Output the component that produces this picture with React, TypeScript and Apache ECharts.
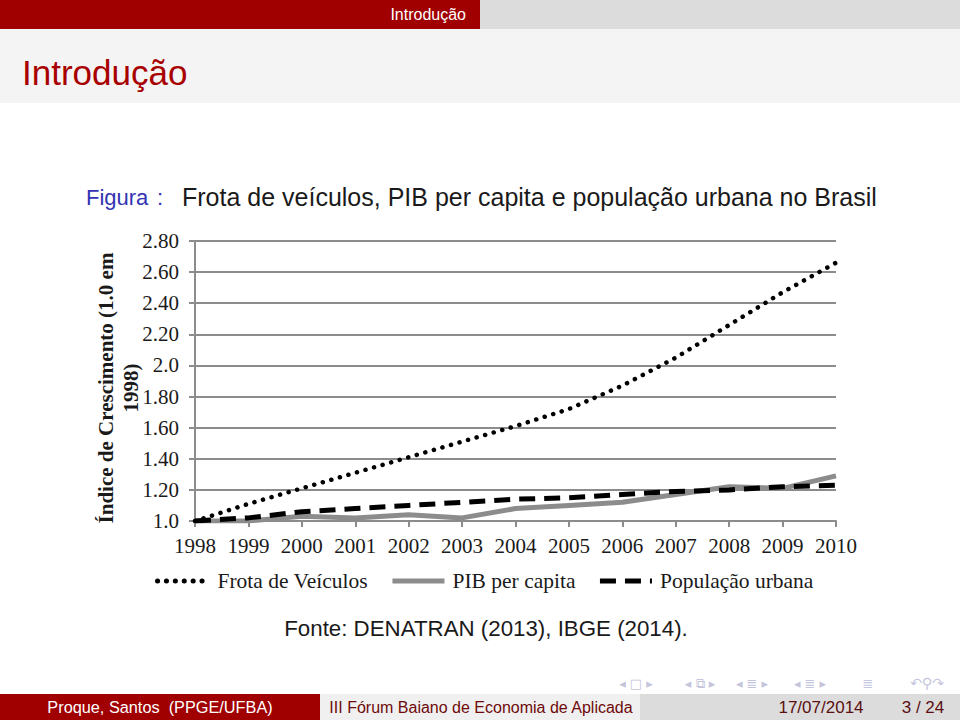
import React, { useEffect, useRef } from "react";
import * as echarts from "echarts";

const years = ["1998", "1999", "2000", "2001", "2002", "2003", "2004", "2005", "2006", "2007", "2008", "2009", "2010"];
const frotaVeiculos = [1.0, 1.11, 1.21, 1.31, 1.41, 1.51, 1.61, 1.72, 1.87, 2.05, 2.26, 2.47, 2.66];
const pibPerCapita = [1.0, 1.0, 1.03, 1.02, 1.04, 1.02, 1.08, 1.1, 1.12, 1.17, 1.22, 1.21, 1.29];
const populacaoUrbana = [1.0, 1.02, 1.06, 1.08, 1.1, 1.12, 1.14, 1.15, 1.17, 1.19, 1.2, 1.22, 1.23];
const yTickLabels = ["1.0", "1.20", "1.40", "1.60", "1.80", "2.0", "2.20", "2.40", "2.60", "2.80"];
const seriesNames = ["Frota de Veículos", "PIB per capita", "População urbana"];
const yAxisTitle = "Índice de Crescimento (1.0 em\n1998)";

const SANS = "'Liberation Sans', Arial, sans-serif";
const SERIF = "'Liberation Serif', 'Times New Roman', serif";
const RED = "#a00000";

function txt(x: number, y: number, text: string, size: number, fill: string, align = "left", extra: any = {}) {
  return {
    type: "text",
    x,
    y,
    silent: true,
    ...extra,
    style: {
      text,
      fill,
      fontSize: size,
      fontFamily: extra.fontFamily || SANS,
      fontWeight: extra.fontWeight || "normal",
      textAlign: align,
      align,
      textVerticalAlign: "middle",
      verticalAlign: "middle",
      lineHeight: extra.lineHeight,
    },
  };
}

export default function App() {
  const ref = useRef<HTMLDivElement>(null);
  useEffect(() => {
    document.body.style.margin = "0";
    const chart = echarts.init(ref.current!, null, { renderer: "svg" });
    const navColor = "#c4c4dc";
    const NAV = "'DejaVu Sans'";
    chart.setOption({
      animation: false,
      backgroundColor: "#ffffff",
      graphic: [
        { type: "rect", shape: { x: 0, y: 0, width: 480, height: 29 }, style: { fill: RED }, silent: true },
        { type: "rect", shape: { x: 480, y: 0, width: 480, height: 29 }, style: { fill: "#dcdcdc" }, silent: true },
        { type: "rect", shape: { x: 0, y: 29, width: 960, height: 74 }, style: { fill: "#f4f4f4" }, silent: true },
        txt(466, 14, "Introdução", 16, "#ffffff", "right"),
        txt(22, 72, "Introdução", 35, "#a80000", "left"),
        txt(86, 197, "Figura", 22, "#3333b3", "left"),
        txt(157, 197, ":", 22, "#3333b3", "left"),
        txt(182, 197, "Frota de veículos, PIB per capita e população urbana no Brasil", 25, "#1a1a1a", "left"),
        txt(118, 388, yAxisTitle, 21, "#1a1a1a", "center", {
          rotation: Math.PI / 2,
          fontFamily: SERIF,
          fontWeight: "bold",
          lineHeight: 25,
        }),
        txt(486, 628, "Fonte: DENATRAN (2013), IBGE (2014).", 22.3, "#1a1a1a", "center"),
        // navigation symbols
        txt(636, 683, "◂ □ ▸", 13, navColor, "center", { fontFamily: NAV }),
        txt(700, 683, "◂ ⧉ ▸", 13, navColor, "center", { fontFamily: NAV }),
        txt(752, 683, "◂ ≣ ▸", 13, navColor, "center", { fontFamily: NAV }),
        txt(810, 683, "◂ ≣ ▸", 13, navColor, "center", { fontFamily: NAV }),
        txt(868, 683, "≣", 13, navColor, "center", { fontFamily: NAV }),
        txt(927, 683, "↶⚲↷", 14, navColor, "center", { fontFamily: NAV }),
        // footer
        { type: "rect", shape: { x: 0, y: 694, width: 320, height: 26 }, style: { fill: RED }, silent: true },
        { type: "rect", shape: { x: 320, y: 694, width: 320, height: 26 }, style: { fill: "#f0f0f0" }, silent: true },
        { type: "rect", shape: { x: 640, y: 694, width: 320, height: 26 }, style: { fill: "#dcdcdc" }, silent: true },
        txt(160, 707, "Proque, Santos  (PPGE/UFBA)", 16.3, "#ffffff", "center"),
        txt(481, 707, "III Fórum Baiano de Economia de Aplicada", 16, "#6e0a0a", "center"),
        txt(821, 707, "17/07/2014", 17, "#5a1010", "center"),
        txt(923, 707, "3 / 24", 17, "#5a1010", "center"),
      ],
      grid: { left: 195, right: 124, top: 241, bottom: 199, containLabel: false },
      legend: {
        left: 150,
        top: 565,
        itemWidth: 52,
        itemHeight: 22,
        itemGap: 22,
        textStyle: { fontFamily: SERIF, fontSize: 21.5, color: "#1a1a1a", padding: [0, 0, 0, 3] },
        itemStyle: { opacity: 0 },
        lineStyle: { width: 5 },
        data: seriesNames,
      },
      xAxis: {
        type: "category",
        data: years,
        boundaryGap: false,
        axisLine: { lineStyle: { color: "#8c8c8c", width: 2 } },
        axisTick: { show: true, interval: 0, length: 6, lineStyle: { color: "#8c8c8c", width: 2 } },
        axisLabel: { interval: 0, fontFamily: SERIF, fontSize: 21, color: "#1a1a1a", margin: 14 },
        splitLine: { show: false },
      },
      yAxis: {
        type: "value",
        min: 1.0,
        max: 2.8,
        interval: 0.2,
        axisLine: { show: true, lineStyle: { color: "#8c8c8c", width: 2 } },
        axisTick: { show: true, length: 6, lineStyle: { color: "#8c8c8c", width: 2 } },
        axisLabel: {
          fontFamily: SERIF,
          fontSize: 21,
          color: "#1a1a1a",
          margin: 16,
          formatter: (v: number) => yTickLabels[Math.round((v - 1) / 0.2)] ?? "",
        },
        splitLine: { show: true, lineStyle: { color: "#8c8c8c", width: 2 } },
      },
      series: [
        {
          name: seriesNames[1],
          type: "line",
          data: pibPerCapita,
          symbol: "none",
          lineStyle: { color: "#8c8c8c", width: 5, type: "solid" },
          itemStyle: { color: "#8c8c8c" },
        },
        {
          name: seriesNames[2],
          type: "line",
          data: populacaoUrbana,
          symbol: "none",
          lineStyle: { color: "#000000", width: 5, type: [16, 9], cap: "butt" },
          itemStyle: { color: "#000000" },
        },
        {
          name: seriesNames[0],
          type: "line",
          data: frotaVeiculos,
          symbol: "none",
          lineStyle: { color: "#000000", width: 4.5, type: [0.1, 8.8], cap: "round" },
          itemStyle: { color: "#000000" },
        },
      ],
    });
    return () => chart.dispose();
  }, []);
  return <div ref={ref} style={{ width: 960, height: 720 }} />;
}
